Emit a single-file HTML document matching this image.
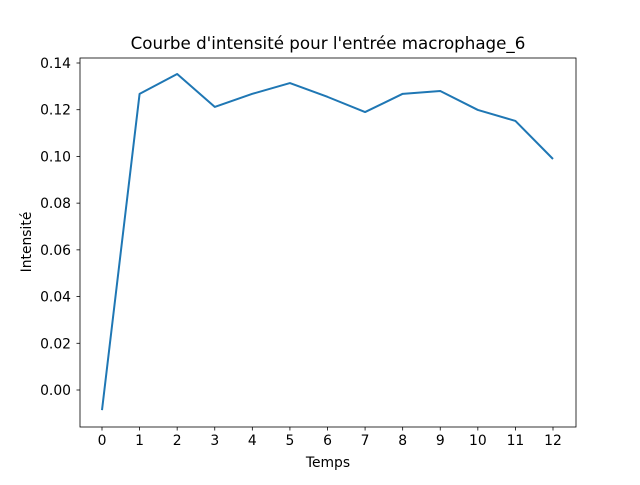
<!DOCTYPE html>
<html><head><meta charset="utf-8"><style>
body{margin:0;background:#fff}
text{font-family:"DejaVu Sans","Liberation Sans",sans-serif;fill:#000}
</style></head><body>
<svg width="640" height="480" xmlns="http://www.w3.org/2000/svg">
<rect width="640" height="480" fill="#fff"/>
<text x="328" y="49" font-size="16.7" text-anchor="middle">Courbe d'intensité pour l'entrée macrophage_6</text>
<g id="ticks"></g>
<path id="line" fill="none" stroke="#1f77b4" stroke-width="2" stroke-linejoin="round"/>
<rect x="80" y="58" width="496" height="369" fill="none" stroke="#000" stroke-width="0.8"/>
<text x="328" y="467" font-size="13.9" text-anchor="middle">Temps</text>
<text transform="translate(31,242) rotate(-90)" font-size="13.9" text-anchor="middle">Intensité</text>
</svg>
<script>
const categories=[0,1,2,3,4,5,6,7,8,9,10,11,12];
const values=[-0.0086,0.1268,0.1353,0.1212,0.1268,0.1314,0.1255,0.119,0.1268,0.128,0.1199,0.1152,0.0989];
const yTicks=[0,0.02,0.04,0.06,0.08,0.10,0.12,0.14];
const xs=v=>102+(v-0)*(553-102)/12;
const ys=v=>390-v*(327/0.14);
const NS="http://www.w3.org/2000/svg";
const g=document.getElementById('ticks');
function mk(t,a){const e=document.createElementNS(NS,t);for(const k in a)e.setAttribute(k,a[k]);g.appendChild(e);return e;}
categories.forEach(c=>{const x=xs(c);
const l=mk('line',{x1:x,x2:x,y1:427,y2:430.5,stroke:'#000','stroke-width':0.8});


const t=mk('text',{x:x,y:445,'font-size':13.9,'text-anchor':'middle'});t.textContent=c;

});
yTicks.forEach(v=>{const y=ys(v);
const l=mk('line',{x1:76.5,x2:80,y1:y,y2:y,stroke:'#000','stroke-width':0.8});


const t=mk('text',{x:71,y:y+5,'font-size':13.9,'text-anchor':'end'});t.textContent=v.toFixed(2);

});
document.getElementById('line').setAttribute('d',values.map((v,i)=>(i?'L':'M')+xs(categories[i])+' '+ys(v)).join(''));
</script>
</body></html>
